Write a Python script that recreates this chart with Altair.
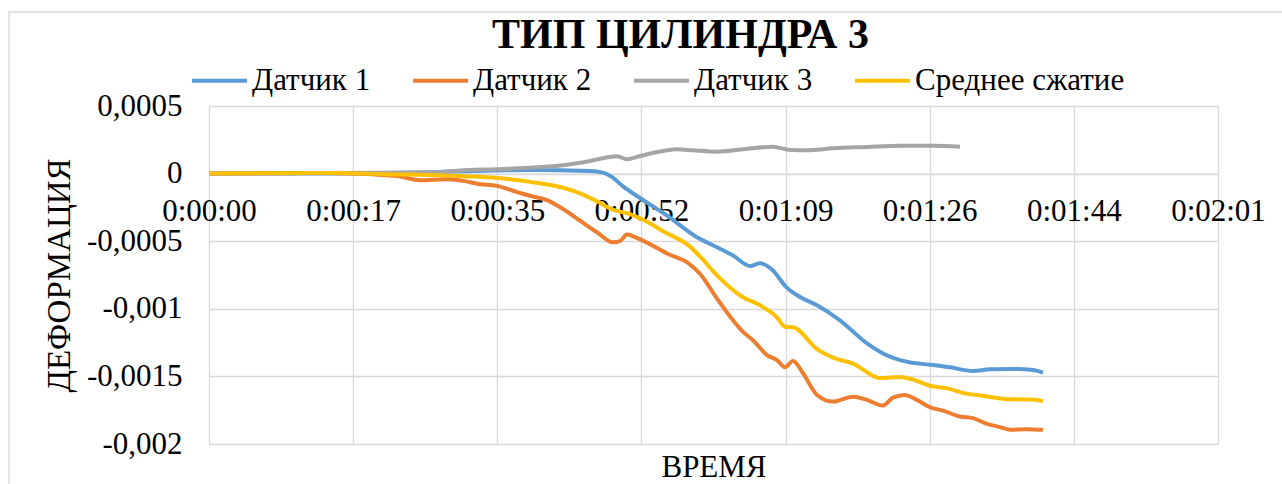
import altair as alt
import pandas as pd

# Elapsed test time (s) and measured strain for each sensor
t_s1 = [0, 17.38, 25.29, 34.53, 38.48, 45.67, 47.23, 48.43, 49.63, 50.47, 51.91, 54.91,
        58.50, 60.90, 62.82, 64.86, 66.05, 67.61, 69.17, 70.85, 72.89, 75.64, 78.88,
        80.80, 83.68, 86.79, 88.83, 91.59, 93.63, 96.86, 98.78, 99.98]
d_s1 = [0, 0.0000015, 0.0000088, 0.0000236, 0.0000272, 0.0000199, 0.0000074, -0.0000295,
        -0.0000943, -0.000131, -0.00019, -0.000311, -0.000471, -0.000545, -0.000606,
        -0.000683, -0.000663, -0.000717, -0.000838, -0.000913, -0.000974, -0.001085,
        -0.001256, -0.00133, -0.001392, -0.001416, -0.001433, -0.00146, -0.001448,
        -0.001446, -0.001453, -0.001473]

t_s2 = [0, 14.51, 22.54, 25.29, 28.53, 30.45, 32.49, 34.53, 36.44, 38.48, 40.52, 42.44,
        44.48, 46.51, 48.43, 49.27, 50.11, 51.31, 52.03, 54.91, 57.66, 58.86, 60.90,
        62.82, 64.02, 65.21, 66.89, 68.09, 69.05, 70.01, 71.21, 72.89, 74.81, 77.20,
        78.88, 80.80, 82.00, 83.44, 84.88, 86.43, 87.99, 90.03, 91.59, 93.27, 94.83,
        96.02, 98.06, 99.98]
d_s2 = [0, 0.0000052, -0.0000169, -0.0000486, -0.0000412, -0.0000538, -0.0000781,
        -0.0000906, -0.000127, -0.000164, -0.000196, -0.000262, -0.000348, -0.000434,
        -0.000508, -0.000499, -0.000451, -0.000476, -0.000496, -0.000591, -0.000672,
        -0.000741, -0.000925, -0.001085, -0.001171, -0.001232, -0.001342, -0.001379,
        -0.001433, -0.001387, -0.001477, -0.001637, -0.001686, -0.00165, -0.001674,
        -0.001716, -0.001657, -0.001637, -0.001674, -0.001728, -0.001753, -0.001797,
        -0.001809, -0.001851, -0.001875, -0.001895, -0.00189, -0.001895]

t_s3 = [0, 14.51, 26.49, 30.45, 34.53, 38.48, 42.44, 45.67, 48.07, 48.91, 50.11, 51.67,
        54.43, 56.10, 58.02, 60.90, 64.02, 67.61, 69.65, 71.69, 74.81, 78.88, 82.84,
        86.79, 90.03]
d_s3 = [0, 0.0000037, 0.0000074, 0.000025, 0.0000324, 0.0000442, 0.0000619, 0.0000935,
        0.000123, 0.000128, 0.000106, 0.00013, 0.000167, 0.00018, 0.000172, 0.000162,
        0.00018, 0.000199, 0.000175, 0.000172, 0.000187, 0.000197, 0.000206, 0.000206,
        0.000199]

t_avg = [0, 14.51, 22.54, 26.49, 30.45, 34.53, 38.48, 42.44, 44.48, 46.51, 48.43, 50.47,
         52.39, 54.43, 57.66, 58.86, 60.90, 64.02, 66.05, 68.09, 69.05, 70.01, 72.89,
         74.81, 77.20, 80.44, 82.84, 84.40, 86.43, 88.47, 90.39, 93.27, 96.02, 98.78,
         99.98]
d_avg = [0, 0.0000052, -0.0000059, -0.0000096, -0.0000191, -0.0000317, -0.0000611,
         -0.000105, -0.000146, -0.000205, -0.000267, -0.0003, -0.000352, -0.000426,
         -0.00054, -0.000613, -0.000753, -0.000915, -0.000974, -0.001063, -0.001133,
         -0.001136, -0.001298, -0.001361, -0.001405, -0.001512, -0.001504, -0.001523,
         -0.001569, -0.001588, -0.001622, -0.001648, -0.001669, -0.001671, -0.001683]

series_names = ["Датчик 1", "Датчик 2", "Датчик 3", "Среднее сжатие"]
series_colors = ["#5B9BD5", "#ED7D31", "#A5A5A5", "#FFC000"]

x_ticks = [0, 17.28, 34.56, 51.84, 69.12, 86.4, 103.68, 120.96]
x_tick_labels = ["0:00:00", "0:00:17", "0:00:35", "0:00:52", "0:01:09", "0:01:26",
                 "0:01:44", "0:02:01"]
y_ticks = [-0.002, -0.0015, -0.001, -0.0005, 0, 0.0005]

frames = []
for name, ts, ds in zip(series_names, [t_s1, t_s2, t_s3, t_avg], [d_s1, d_s2, d_s3, d_avg]):
    frames.append(pd.DataFrame({"t": ts, "d": ds, "series": name}))
data = pd.concat(frames, ignore_index=True)
data["order"] = range(len(data))

FONT = "'Liberation Serif', 'DejaVu Serif', serif"
GRID = "#d9d9d9"
W, H = 1009, 338

x_label_expr = ("[" + ",".join(f"'{s}'" for s in x_tick_labels) + "][indexof(["
                + ",".join(str(v) for v in x_ticks) + "], datum.value)]")

# distance from the bottom of the plot up to the zero line, where the time axis sits
zero_offset = H * 0.002 / 0.0025

lines = alt.Chart(data).mark_line(strokeWidth=4, interpolate="monotone").encode(
    x=alt.X("t:Q", scale=alt.Scale(domain=[0, 120.96], nice=False, zero=False),
            axis=alt.Axis(values=x_ticks, labelExpr=x_label_expr, title="ВРЕМЯ",
                          offset=-zero_offset, grid=True, gridColor=GRID, gridWidth=1.3,
                          domainColor=GRID, domainWidth=1.3, ticks=False, tickSize=0,
                          labelPadding=38, labelBaseline="middle", labelFont=FONT,
                          labelFontSize=31, labelColor="#000000", labelOverlap=False,
                          labelFlush=False, titleFont=FONT, titleFontSize=31,
                          titleFontWeight="normal", titleColor="#000000",
                          titleBaseline="middle", titleY=zero_offset + 23)),
    y=alt.Y("d:Q", scale=alt.Scale(domain=[-0.002, 0.0005], nice=False, zero=False),
            axis=alt.Axis(values=y_ticks,
                          labelExpr="replace(toString(datum.value), '.', ',')",
                          title="ДЕФОРМАЦИЯ", grid=True, gridColor=GRID, gridWidth=1.3,
                          domain=False, ticks=False, tickSize=0, labelPadding=27,
                          labelFont=FONT, labelFontSize=31, labelColor="#000000",
                          labelOverlap=False, labelFlush=False, titleFont=FONT,
                          titleFontSize=33, titleFontWeight="normal",
                          titleColor="#000000", titleX=-133)),
    color=alt.Color("series:N",
                    scale=alt.Scale(domain=series_names, range=series_colors),
                    legend=alt.Legend(title=None, orient="none", direction="horizontal",
                                      legendX=-19, legendY=-55, symbolType="stroke",
                                      symbolSize=3025, symbolStrokeWidth=4,
                                      labelFont=FONT, labelFontSize=31,
                                      labelColor="#000000", labelOffset=3,
                                      columnPadding=34, padding=0, labelLimit=400)),
    order=alt.Order("order:Q"),
)

# light chart-area border around everything
frame = alt.Chart(pd.DataFrame({"k": [0]})).mark_rect(
    filled=False, stroke=GRID, strokeWidth=1.3
).encode(
    x=alt.value(-200), x2=alt.value(1282 - 209 + 30),
    y=alt.value(-94), y2=alt.value(484 - 106 + 30),
)

chart = alt.layer(frame, lines).properties(
    width=W, height=H,
    title=alt.TitleParams("ТИП ЦИЛИНДРА 3", font=FONT, fontSize=42, fontWeight="bold",
                          color="#000000", anchor="middle", dx=-33, dy=50),
    autosize=alt.AutoSizeParams(type="none"),
    padding={"left": 209, "top": 106, "right": 64, "bottom": 40},
).configure_view(strokeWidth=0).configure(background="#ffffff")

chart.save("out.html", embed_options={"renderer": "svg", "actions": False})
